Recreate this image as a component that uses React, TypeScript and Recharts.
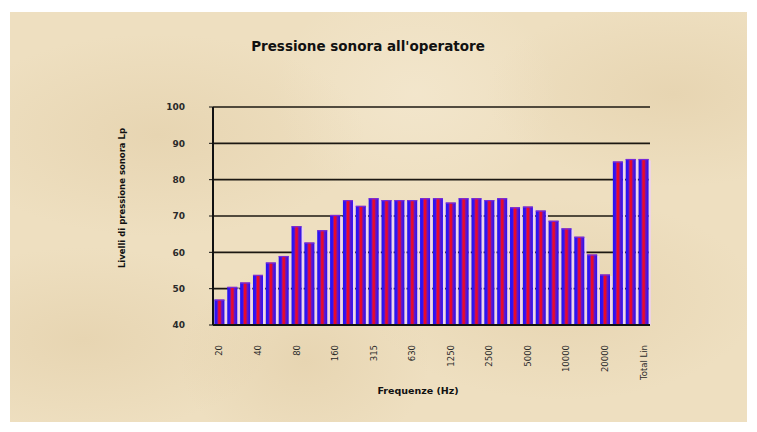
import { BarChart, Bar, XAxis, YAxis, CartesianGrid } from "recharts";

// 1/3 octave bands + totals (only every 3rd label is shown, as in the original)
const bands = [
  "20", "25", "31.5", "40", "50", "63", "80", "100", "125", "160", "200", "250",
  "315", "400", "500", "630", "800", "1000", "1250", "1600", "2000", "2500",
  "3150", "4000", "5000", "6300", "8000", "10000", "12500", "16000", "20000",
  "Total A", "Total C", "Total Lin",
];

const lp = [
  47, 50.5, 51.7, 53.8, 57.2, 59, 67.2, 62.7, 66.1, 70.3, 74.4, 72.8,
  74.9, 74.4, 74.4, 74.4, 74.9, 74.9, 73.7, 74.9, 74.9, 74.4,
  74.9, 72.4, 72.6, 71.5, 68.7, 66.6, 64.3, 59.4, 53.9,
  85, 85.7, 85.7,
];

const yTicks = [40, 50, 60, 70, 80, 90, 100];

const data = bands.map((b, i) => ({ band: b, lp: lp[i] }));

const FONT = "'DejaVu Sans', Verdana, sans-serif";

const Bar3D = (props: any) => {
  const { x, y, width, height } = props;
  if (!height || height <= 0) return null;
  return (
    <g>
      <rect x={x + width} y={y + 1.5} width={2.2} height={height - 1.5} fill="#efd2f0" />
      <rect x={x} y={y} width={width} height={height} fill="url(#barGrad)" />
      <rect x={x} y={y} width={width} height={1.2} fill="#7a2ad8" />
    </g>
  );
};

const XTick = (props: any) => {
  const { x, y, payload } = props;
  return (
    <text
      x={x}
      y={y}
      transform={`rotate(-90 ${x} ${y})`}
      textAnchor="end"
      dy={3}
      fontSize={8.5}
      fontFamily={FONT}
      fill="#2a2a2a"
    >
      {payload.value}
    </text>
  );
};

export default function App() {
  return (
    <div style={{ position: "absolute", left: 0, top: 0, width: 757, height: 432, background: "#fff", overflow: "hidden" }}>
      {/* parchment background */}
      <div
        style={{
          position: "absolute", left: 10, top: 12, width: 737, height: 410,
          background:
            "radial-gradient(ellipse at 20% 30%, rgba(215,190,145,0.3), transparent 25%)," +
            "radial-gradient(ellipse at 75% 70%, rgba(215,190,145,0.3), transparent 25%)," +
            "radial-gradient(ellipse at 40% 85%, rgba(215,190,145,0.3), transparent 20%)," +
            "radial-gradient(ellipse at 90% 20%, rgba(215,190,145,0.3), transparent 20%)," +
            "radial-gradient(ellipse at 10% 80%, rgba(215,190,145,0.3), transparent 20%)," +
            "radial-gradient(ellipse at 55% 20%, rgba(250,242,225,0.35), transparent 25%)," +
            "#eedfc0",
        }}
      />

      <div style={{ position: "absolute", left: 168, top: 37, width: 400, textAlign: "center", fontFamily: FONT, fontWeight: "bold", fontSize: 13.5, lineHeight: "18px", color: "#111" }}>
        Pressione sonora all'operatore
      </div>
      <div style={{ position: "absolute", left: 318, top: 384, width: 200, textAlign: "center", fontFamily: FONT, fontWeight: "bold", fontSize: 9.5, lineHeight: "14px", color: "#111" }}>
        Frequenze (Hz)
      </div>
      <div style={{ position: "absolute", left: 22, top: 191, width: 200, height: 14, textAlign: "center", fontFamily: FONT, fontWeight: "bold", fontSize: 8.5, lineHeight: "14px", color: "#111", transform: "rotate(-90deg)" }}>
        Livelli di pressione sonora Lp
      </div>

      <div style={{ position: "absolute", left: 0, top: 0 }}>
        <BarChart
          width={757}
          height={432}
          data={data}
          margin={{ top: 107, right: 107, bottom: 62, left: 173 }}
          barCategoryGap="11%"
        >
          <defs>
            <linearGradient id="barGrad" x1="0" y1="0" x2="1" y2="0">
              <stop offset="0" stopColor="#2410f5" />
              <stop offset="0.25" stopColor="#3414f0" />
              <stop offset="0.36" stopColor="#a0168a" />
              <stop offset="0.44" stopColor="#f00a24" />
              <stop offset="0.58" stopColor="#e00c30" />
              <stop offset="0.72" stopColor="#6a16c4" />
              <stop offset="1" stopColor="#2410f5" />
            </linearGradient>
          </defs>
          <CartesianGrid vertical={false} stroke="#1c1812" strokeWidth={1.6} />
          <XAxis
            dataKey="band"
            interval={2}
            tick={<XTick />}
            tickLine={false}
            axisLine={{ stroke: "#111", strokeWidth: 2 }}
            height={45}
            tickMargin={14}
          />
          <YAxis
            domain={[40, 100]}
            ticks={yTicks}
            width={40}
            tickSize={4}
            tickMargin={24}
            tickLine={{ stroke: "#111" }}
            axisLine={{ stroke: "#111", strokeWidth: 2 }}
            tick={{ fontSize: 9, fontFamily: FONT, fontWeight: "bold", fill: "#2a2a2a" }}
          />
          <YAxis
            yAxisId="frame"
            orientation="right"
            domain={[40, 100]}
            width={0}
            tick={false}
            tickLine={false}
            axisLine={{ stroke: "#111", strokeWidth: 2 }}
          />
          <Bar dataKey="lp" shape={<Bar3D />} isAnimationActive={false} />
        </BarChart>
      </div>
    </div>
  );
}
